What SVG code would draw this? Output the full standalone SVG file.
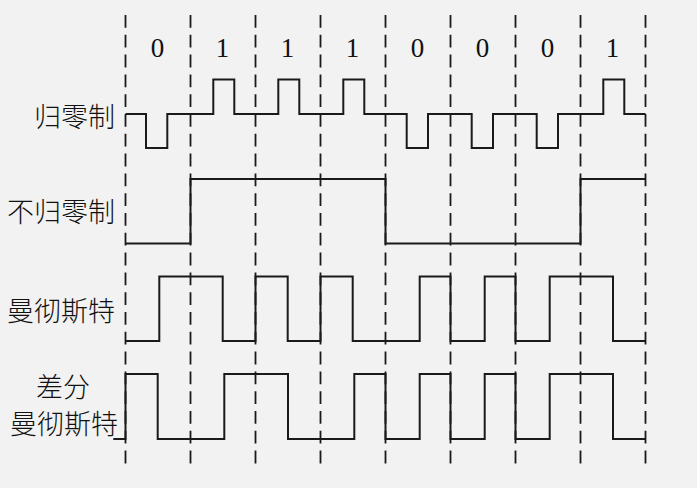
<svg xmlns="http://www.w3.org/2000/svg" width="697" height="488" viewBox="0 0 697 488">
<style>
.grid{stroke:#1a1a1a;stroke-width:1.8;stroke-dasharray:12.8 7;fill:none}
.sig{stroke:#1a1a1a;stroke-width:2;fill:none;stroke-linejoin:miter}
.bit{font-family:"Liberation Serif","Times New Roman",serif;font-size:27px;fill:#111;text-anchor:middle}
.lbl{font-family:"Noto Sans CJK SC","Noto Sans CJK JP",sans-serif;font-size:27px;font-weight:300;fill:#111;text-anchor:end}
</style>
<rect width="697" height="488" fill="#f2f2f2"/>
<g id="gridlines">
<line class="grid" x1="125.5" y1="15" x2="125.5" y2="464"/>
<line class="grid" x1="190.5" y1="15" x2="190.5" y2="464"/>
<line class="grid" x1="255.5" y1="15" x2="255.5" y2="464"/>
<line class="grid" x1="320.5" y1="15" x2="320.5" y2="464"/>
<line class="grid" x1="385.5" y1="15" x2="385.5" y2="464"/>
<line class="grid" x1="450.5" y1="15" x2="450.5" y2="464"/>
<line class="grid" x1="515.5" y1="15" x2="515.5" y2="464"/>
<line class="grid" x1="580.5" y1="15" x2="580.5" y2="464"/>
<line class="grid" x1="645.5" y1="15" x2="645.5" y2="464"/>
</g>
<g id="bits">
<text class="bit" x="157.5" y="56.5">0</text>
<text class="bit" x="222.5" y="56.5">1</text>
<text class="bit" x="287.5" y="56.5">1</text>
<text class="bit" x="352.5" y="56.5">1</text>
<text class="bit" x="417.5" y="56.5">0</text>
<text class="bit" x="482.5" y="56.5">0</text>
<text class="bit" x="547.5" y="56.5">0</text>
<text class="bit" x="612.5" y="56.5">1</text>
</g>
<g id="rz">
<text class="lbl" x="115" y="127.3">归零制</text>
<path class="sig" d="M125.5,114 H146 V148 H167.3 V114 H213.3 V79.5 H234.3 V114 H278.3 V79.5 H299.3 V114 H343.3 V79.5 H364.3 V114 H406.7 V148 H428 V114 H471.7 V148 H493 V114 H536.7 V148 H558 V114 H603.3 V79.5 H624.3 V114 H645.5"/>
</g>
<g id="nrz">
<text class="lbl" x="115" y="222">不归零制</text>
<path class="sig" d="M125.5,243.5 H190.5 V179 H385.5 V243.5 H580.5 V179 H645.5"/>
</g>
<g id="manchester">
<text class="lbl" x="115" y="321">曼彻斯特</text>
<path class="sig" d="M125.5,341 H159.3 V276.5 H222.7 V341 H255.5 V276.5 H287.7 V341 H320.5 V276.5 H352.7 V341 H419.7 V276.5 H450.5 V341 H484.7 V276.5 H515.5 V341 H549.7 V276.5 H613 V341 H645.5"/>
</g>
<g id="diff-manchester">
<text class="lbl" x="63" y="397" style="text-anchor:middle">差分</text>
<text class="lbl" x="118" y="434">曼彻斯特</text>
<path class="sig" d="M113.3,439 H125.5 V374 H157.7 V439 H224.3 V374 H288 V439 H354.3 V374 H385.5 V439 H419.7 V374 H450.5 V439 H484.7 V374 H515.5 V439 H549.7 V374 H613 V439 H645.5"/>
</g>
</svg>
